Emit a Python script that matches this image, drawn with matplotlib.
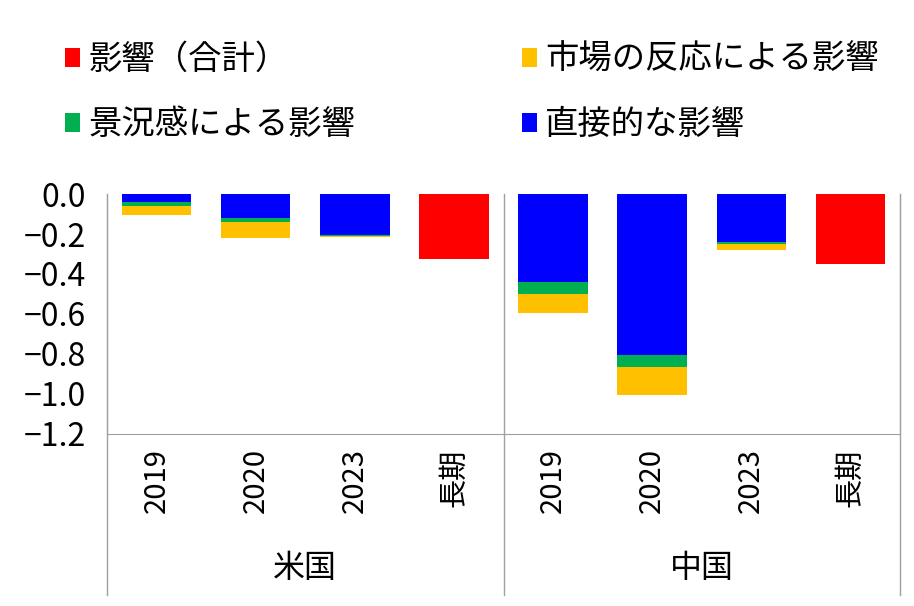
import matplotlib
matplotlib.use('Agg')
import matplotlib.pyplot as plt
import numpy as np

plt.rcParams['font.family'] = ['Noto Sans CJK JP', 'DejaVu Sans']

# categories / groups
categories = ['2019', '2020', '2023', '長期', '2019', '2020', '2023', '長期']
groups = ['米国', '中国']

# values (stacked downward: blue, green, yellow)
direct = [-0.040, -0.120, -0.205, 0.0, -0.440, -0.805, -0.240, 0.0]
sentiment = [-0.020, -0.020, -0.004, 0.0, -0.060, -0.060, -0.012, 0.0]
market = [-0.045, -0.080, -0.008, 0.0, -0.095, -0.140, -0.030, 0.0]
total = [0.0, 0.0, 0.0, -0.325, 0.0, 0.0, 0.0, -0.350]

labels = ['影響（合計）', '市場の反応による影響', '景況感による影響', '直接的な影響']
c_red, c_yellow, c_green, c_blue = '#FF0000', '#FFC000', '#00B050', '#0000FF'

x = np.arange(len(categories))
direct = np.array(direct)
sentiment = np.array(sentiment)
market = np.array(market)

fig = plt.figure(figsize=(9.14, 6.06), dpi=100)
ax = fig.add_axes([107 / 914, 1 - 434 / 606, (900 - 107) / 914, (434 - 194) / 606])

w = 0.7
b_blue = ax.bar(x, direct, w, color=c_blue)
b_green = ax.bar(x, sentiment, w, bottom=direct, color=c_green)
b_yellow = ax.bar(x, market, w, bottom=direct + sentiment, color=c_yellow)
b_red = ax.bar(x, total, w, color=c_red)

ax.set_xlim(-0.5, 7.5)
ax.set_ylim(-1.2, 0)
yt = np.arange(-1.2, 0.01, 0.2)
ax.set_yticks(yt)
ax.set_yticklabels([('%.1f' % abs(v)) if abs(v) < 1e-9 else '\u2212%.1f' % abs(v) for v in yt])
ax.tick_params(axis='y', length=0, pad=15, labelsize=23)
ax.set_xticks([])

ax.spines['top'].set_visible(False)
for s in ['bottom', 'left', 'right']:
    ax.spines[s].set_color('#a0a0a0')

# category labels and group labels below axis
trans = ax.get_xaxis_transform()
for xi, lab in zip(x, categories):
    ax.text(xi, -0.06, lab, transform=trans, rotation=90, ha='center', va='top',
            fontsize=21, clip_on=False)
for gi, g in enumerate(groups):
    ax.text(gi * 4 + 1.5, -0.56, g, transform=trans, ha='center', va='center',
            fontsize=23, clip_on=False)

# vertical separators extending below the axis
for xs in [-0.5, 3.5, 7.5]:
    ax.plot([xs, xs], [-0.67, 1.0], transform=trans, color='#a0a0a0', lw=1.0, clip_on=False)

# legend: row1 red, yellow; row2 green, blue
fig.legend([b_red, b_green, b_yellow, b_blue],
           [labels[0], labels[2], labels[1], labels[3]],
           ncol=2, loc='upper left', bbox_to_anchor=(35 / 914, 1 - 12 / 606),
           frameon=False, fontsize=24, handlelength=0.45, handleheight=0.5,
           handletextpad=0.25, columnspacing=5.0, labelspacing=0.9)

fig.savefig('out.png', dpi=100)
